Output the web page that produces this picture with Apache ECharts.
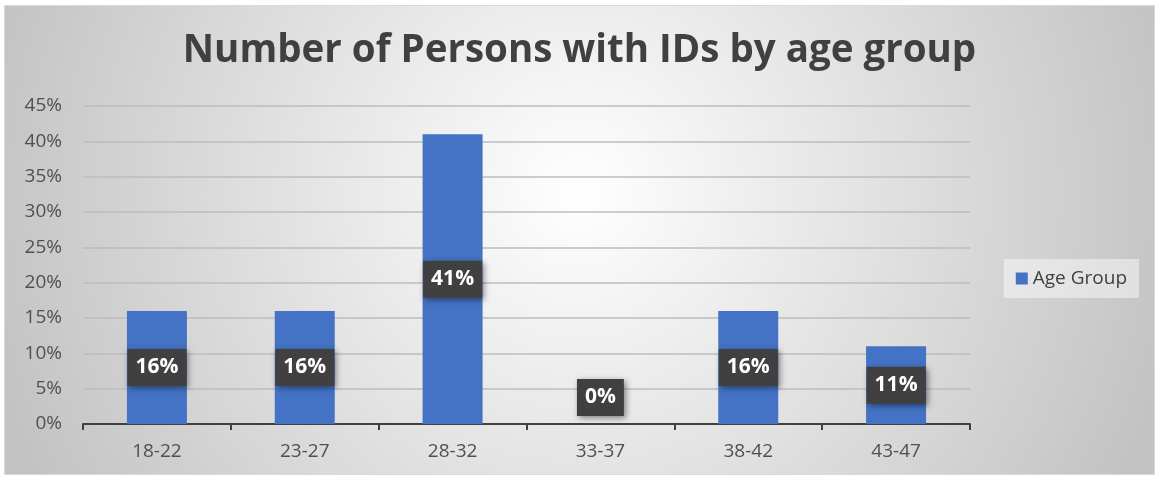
<!DOCTYPE html>
<html>
<head>
<meta charset="utf-8">
<script src="https://cdn.jsdelivr.net/npm/echarts@6/dist/echarts.min.js"></script>
<style>
  html, body { margin: 0; padding: 0; background: #fff; }
  #chart {
    position: absolute;
    left: 4px;
    top: 5px;
    width: 1151px;
    height: 470px;
    border: 1px solid #d9d9d9;
    box-sizing: border-box;
  }
</style>
</head>
<body>
<div id="chart"></div>
<script>
  var categories = ["18-22", "23-27", "28-32", "33-37", "38-42", "43-47"];
  var ageGroup = [16, 16, 41, 0, 16, 11];
  var yTicks = [0, 5, 10, 15, 20, 25, 30, 35, 40, 45];

  var chart = echarts.init(document.getElementById("chart"));

  var labelStyle = {
    show: true,
    position: "inside",
    formatter: "{c}%",
    color: "#fff",
    fontFamily: "Open Sans",
    fontWeight: "bold",
    fontSize: 21,
    backgroundColor: "#404040",
    padding: [8, 8],
    shadowColor: "rgba(0,0,0,0.45)",
    shadowBlur: 6,
    shadowOffsetX: 2,
    shadowOffsetY: 2
  };

  var option = {
    backgroundColor: {
      type: "radial",
      x: 0.5,
      y: 0.4,
      r: 1.3,
      colorStops: [
        { offset: 0, color: "#ffffff" },
        { offset: 1, color: "#c3c3c3" }
      ]
    },
    title: {
      text: "Number of Persons with IDs by age group",
      left: "center",
      top: 21,
      textStyle: {
        fontFamily: "Open Sans",
        fontWeight: "bold",
        fontSize: 38.5,
        color: "#404040"
      }
    },
    legend: {
      right: 15,
      top: 253,
      orient: "vertical",
      backgroundColor: "rgba(255,255,255,0.45)",
      padding: [10, 12],
      itemWidth: 12,
      itemHeight: 12,
      icon: "rect",
      data: ["Age Group"],
      textStyle: {
        fontFamily: "Open Sans",
        fontSize: 19,
        color: "#404040"
      }
    },
    grid: {
      left: 78,
      right: 184,
      top: 100,
      bottom: 50
    },
    xAxis: {
      type: "category",
      data: categories,
      axisLine: { lineStyle: { color: "#404040", width: 2 } },
      axisTick: { show: true, length: 6, lineStyle: { color: "#404040", width: 2 } },
      axisLabel: {
        margin: 18,
        fontFamily: "Open Sans",
        fontSize: 19,
        color: "#505050"
      }
    },
    yAxis: {
      type: "value",
      min: yTicks[0],
      max: yTicks[yTicks.length - 1],
      interval: 5,
      axisLine: { show: false },
      axisTick: { show: false },
      axisLabel: {
        margin: 21,
        formatter: "{value}%",
        fontFamily: "Open Sans",
        fontSize: 19,
        color: "#505050"
      },
      splitLine: { lineStyle: { color: "#bdbdbd", width: 1.5 } }
    },
    series: [
      {
        name: "Age Group",
        type: "bar",
        barWidth: 60,
        itemStyle: { color: "#4472C4" },
        data: ageGroup.map(function (v) {
          if (v === 0) {
            return { value: v, label: { position: "top", distance: 8 } };
          }
          return v;
        }),
        label: labelStyle
      }
    ]
  };

  chart.setOption(option);
  window.addEventListener("resize", function () {
    chart.resize();
  });
</script>
</body>
</html>
